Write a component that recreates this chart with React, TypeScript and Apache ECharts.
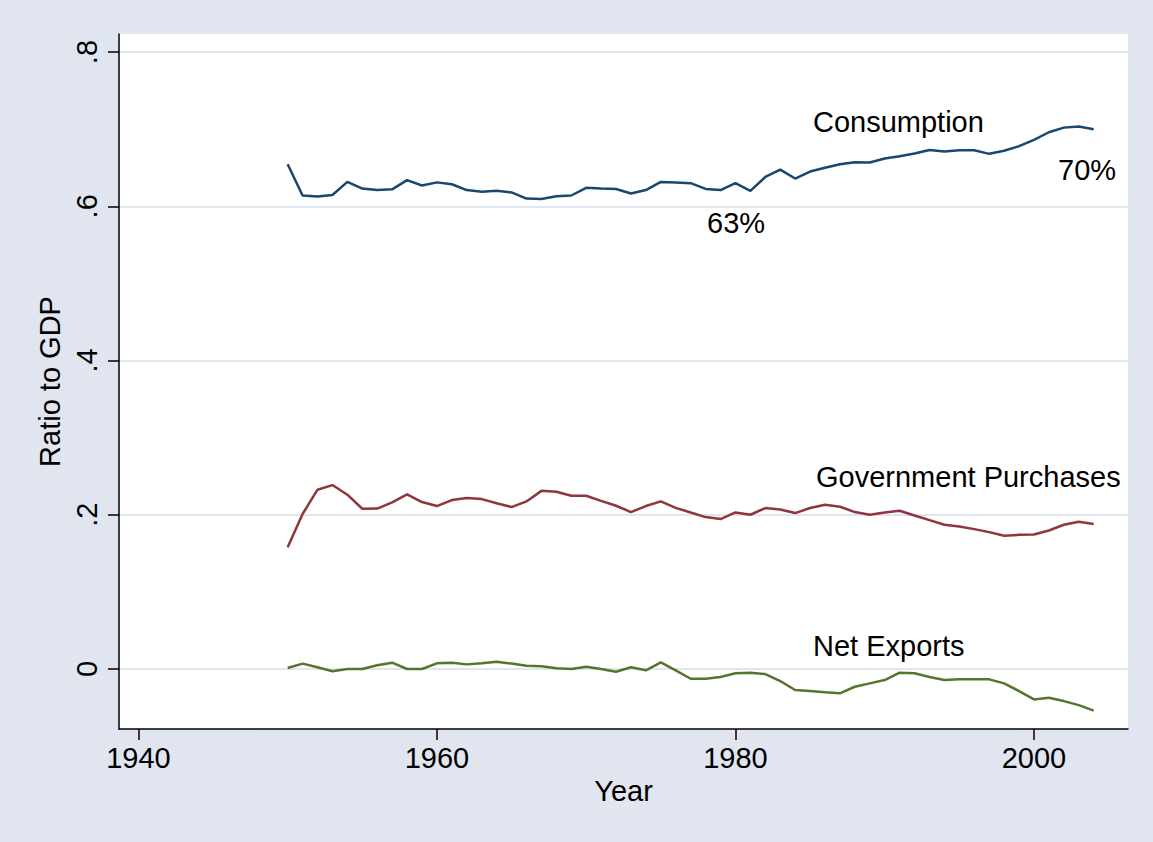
import React, { useEffect, useRef } from "react";
import * as echarts from "echarts";

const years: number[] = [];
for (let y = 1950; y <= 2004; y++) years.push(y);

const consumption = [
  0.6545, 0.614, 0.6126, 0.6147, 0.6316, 0.623, 0.621, 0.622, 0.634, 0.627,
  0.631, 0.6286, 0.621, 0.619, 0.62, 0.618, 0.61, 0.6095, 0.613, 0.614,
  0.624, 0.623, 0.6225, 0.6165, 0.621, 0.6316, 0.631, 0.63, 0.6225, 0.621,
  0.63, 0.62, 0.638, 0.6476, 0.636, 0.645, 0.65, 0.6545, 0.657, 0.6567,
  0.662, 0.665, 0.6684, 0.673, 0.671, 0.6727, 0.6727, 0.668, 0.672, 0.678,
  0.686, 0.696, 0.702, 0.7035, 0.7,
];

const government = [
  0.158, 0.201, 0.2325, 0.2385, 0.226, 0.2078, 0.208, 0.216, 0.2264, 0.2165,
  0.2113, 0.219, 0.2216, 0.2203, 0.215, 0.21, 0.2173, 0.231, 0.2299, 0.2247,
  0.2247, 0.218, 0.2117, 0.2035, 0.2113, 0.2173, 0.209, 0.203, 0.197, 0.1944,
  0.203, 0.2, 0.2087, 0.2069, 0.2022, 0.2087, 0.213, 0.2104, 0.2035, 0.2,
  0.203, 0.2052, 0.199, 0.193, 0.187, 0.1848, 0.1814, 0.1775, 0.1727, 0.174,
  0.1745, 0.1796, 0.187, 0.191, 0.188,
];

const netExports = [
  0.0013, 0.007, 0.0022, -0.003, 0.0, 0.0, 0.0048, 0.0082, 0.0, 0.0,
  0.0074, 0.0082, 0.006, 0.0074, 0.0095, 0.007, 0.0043, 0.0035, 0.001, 0.0,
  0.003, 0.0, -0.0035, 0.0022, -0.0017, 0.0087, -0.0017, -0.0126, -0.0126, -0.0104,
  -0.0056, -0.0048, -0.0065, -0.0156, -0.0273, -0.0286, -0.0303, -0.0316, -0.023, -0.0186,
  -0.0143, -0.0048, -0.0056, -0.0104, -0.0143, -0.0134, -0.0134, -0.0134, -0.0186, -0.0286,
  -0.0394, -0.0372, -0.0416, -0.0468, -0.054,
];

const xTicks = [1940, 1960, 1980, 2000];
const yTicks = [0, 0.2, 0.4, 0.6, 0.8];

const FONT = "'Liberation Sans', Arial, Helvetica, sans-serif";

export default function App() {
  const ref = useRef<HTMLDivElement>(null);
  useEffect(() => {
    if (!ref.current) return;
    const chart = echarts.init(ref.current, null, { renderer: "svg" });
    const pairs = (arr: number[]) => years.map((y, i) => [y, arr[i]]);
    const textStyle = (text: string) => ({
      text,
      fill: "#000",
      font: `29px ${FONT}`,
    });
    chart.setOption({
      animation: false,
      backgroundColor: "#e1e5ef",
      textStyle: { fontFamily: FONT },
      grid: {
        left: 119,
        top: 34,
        right: 25,
        bottom: 113,
        show: true,
        backgroundColor: "#ffffff",
        borderWidth: 0,
      },
      xAxis: {
        type: "value",
        min: 1938.7,
        max: 2006.3,
        name: "Year",
        nameLocation: "middle",
        nameGap: 47,
        nameTextStyle: { fontSize: 29, color: "#000", fontFamily: FONT },
        axisLine: { show: true, onZero: false, lineStyle: { color: "#000", width: 1.5 } },
        axisTick: { show: true, length: 11, customValues: xTicks, lineStyle: { color: "#000", width: 1.5 } },
        axisLabel: {
          customValues: xTicks,
          fontSize: 29,
          color: "#000",
          margin: 14,
          fontFamily: FONT,
          formatter: (v: number) => String(Math.round(v)),
        },
        splitLine: { show: false },
      },
      yAxis: {
        type: "value",
        min: -0.0778,
        max: 0.8234,
        name: "Ratio to GDP",
        nameLocation: "middle",
        nameRotate: 90,
        nameGap: 53,
        nameTextStyle: { fontSize: 29, color: "#000", fontFamily: FONT },
        axisLine: { show: true, onZero: false, lineStyle: { color: "#000", width: 1.5 } },
        axisTick: { show: true, length: 11, customValues: yTicks, lineStyle: { color: "#000", width: 1.5 } },
        axisLabel: {
          customValues: yTicks,
          rotate: 90,
          fontSize: 29,
          color: "#000",
          margin: 18,
          fontFamily: FONT,
          formatter: (v: number) => (v === 0 ? "0" : "." + Math.round(v * 10)),
        },
        splitLine: { show: true, lineStyle: { color: "#e1e5ef", width: 2 } },
      },
      series: [
        {
          name: "Consumption",
          type: "line",
          data: pairs(consumption),
          showSymbol: false,
          lineStyle: { color: "#1a476f", width: 2.5 },
          itemStyle: { color: "#1a476f" },
        },
        {
          name: "Government Purchases",
          type: "line",
          data: pairs(government),
          showSymbol: false,
          lineStyle: { color: "#90353b", width: 2.5 },
          itemStyle: { color: "#90353b" },
        },
        {
          name: "Net Exports",
          type: "line",
          data: pairs(netExports),
          showSymbol: false,
          lineStyle: { color: "#55752f", width: 2.5 },
          itemStyle: { color: "#55752f" },
        },
      ],
      graphic: [
        { type: "text", left: 813, top: 107, style: textStyle("Consumption") },
        { type: "text", left: 707, top: 208, style: textStyle("63%") },
        { type: "text", left: 1058, top: 155, style: textStyle("70%") },
        { type: "text", left: 816, top: 462, style: textStyle("Government Purchases") },
        { type: "text", left: 813, top: 631, style: textStyle("Net Exports") },
      ],
    });
    return () => chart.dispose();
  }, []);
  return (
    <div
      ref={ref}
      style={{ position: "absolute", left: 0, top: 0, width: 1153, height: 842 }}
    />
  );
}
